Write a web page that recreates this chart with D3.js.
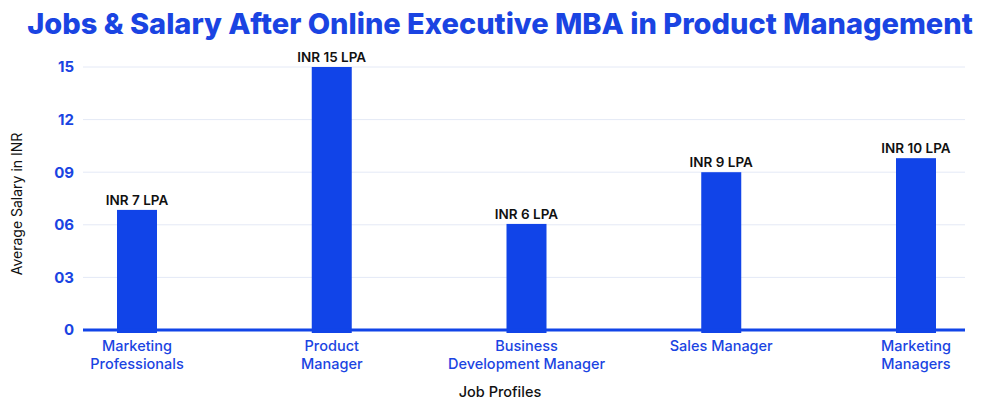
<!DOCTYPE html>
<html><head><meta charset="utf-8">
<script src="https://cdn.jsdelivr.net/npm/d3@7"></script>
<style>body{margin:0;background:#fff;} svg{display:block;font-family:Inter, "Open Sans", sans-serif;}</style>
</head><body>
<svg id="c" width="1000" height="411"></svg>
<script>
const categories = [["Marketing","Professionals"],["Product","Manager"],["Business","Development Manager"],["Sales Manager"],["Marketing","Managers"]];
const values = [6.85, 15, 6.05, 9, 9.8];
const valueLabels = ["INR 7 LPA","INR 15 LPA","INR 6 LPA","INR 9 LPA","INR 10 LPA"];
const yTicks = [0,3,6,9,12,15];
const yTickLabels = ["0","03","06","09","12","15"];

(function(){
const blue = "#1144e8";
const svg = d3.select("#c");
const pl = 83, pr = 965, pt = 67, pb = 330;
const keys = categories.map(c => c.join(" "));
const x = d3.scalePoint().domain(keys).range([137, 916]);
const y = d3.scaleLinear().domain([0,15]).range([pb, pt]);
const bw = 40;

svg.append("text").attr("x",500).attr("y",34).attr("text-anchor","middle")
  .attr("font-size",29).attr("font-weight",800).attr("fill","#1a44e2")
  .text("Jobs & Salary After Online Executive MBA in Product Management");

svg.append("g").selectAll("line").data(yTicks.filter(d=>d>0)).join("line")
  .attr("x1",pl).attr("x2",pr).attr("y1",d=>y(d)).attr("y2",d=>y(d))
  .attr("stroke","#e4e9f6").attr("stroke-width",1);

const ya = svg.append("g").attr("transform",`translate(${pl},0)`)
  .call(d3.axisLeft(y).tickValues(yTicks).tickSize(0).tickPadding(9).tickFormat((d,i)=>yTickLabels[i]));
ya.select(".domain").remove();
ya.selectAll("text").attr("font-size",15).attr("font-weight",700).attr("fill","#1a44e2").attr("font-family","Inter, sans-serif");

svg.append("g").selectAll("rect").data(values).join("rect")
  .attr("x",(d,i)=>x(keys[i])-bw/2).attr("width",bw)
  .attr("y",d=>y(d)).attr("height",d=>y(0)-y(d)+3).attr("fill",blue);

svg.append("line").attr("x1",pl).attr("x2",pr).attr("y1",y(0)).attr("y2",y(0))
  .attr("stroke",blue).attr("stroke-width",3);

svg.append("g").selectAll("text").data(values).join("text")
  .attr("x",(d,i)=>x(keys[i])).attr("y",d=>y(d)-5).attr("text-anchor","middle")
  .attr("font-size",13.5).attr("font-weight",600).attr("fill","#111")
  .text((d,i)=>valueLabels[i]);

const xl = svg.append("g").selectAll("text").data(categories).join("text")
  .attr("x",(d,i)=>x(keys[i])).attr("y",351).attr("text-anchor","middle")
  .attr("font-size",14.5).attr("font-weight",500).attr("fill","#1a44e2");
xl.selectAll("tspan").data(d=>d).join("tspan")
  .attr("x",function(){return this.parentNode.getAttribute("x");})
  .attr("dy",(d,i)=>i===0?0:18).text(d=>d);

svg.append("text").attr("x",500).attr("y",397).attr("text-anchor","middle")
  .attr("font-size",14.5).attr("font-weight",500).attr("fill","#111").text("Job Profiles");
svg.append("text").attr("transform","translate(22,204) rotate(-90)").attr("text-anchor","middle")
  .attr("font-size",14).attr("font-weight",400).attr("fill","#111").text("Average Salary in INR");
})();
</script>
</body></html>
